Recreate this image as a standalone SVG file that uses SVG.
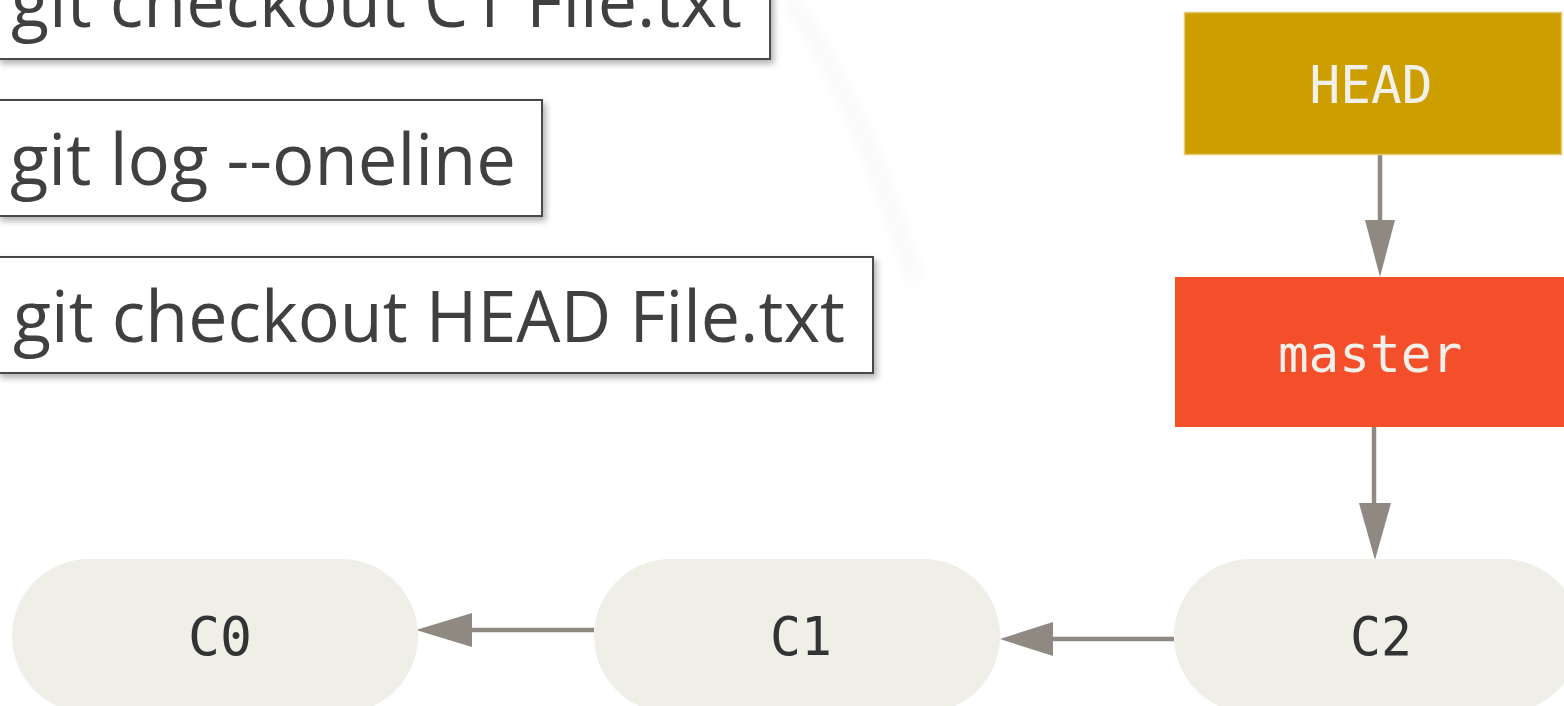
<svg xmlns="http://www.w3.org/2000/svg" width="1564" height="706" viewBox="0 0 1564 706">
  <defs>
    <style>
      .cmd { fill: #ffffff; stroke: #4a4a4a; stroke-width: 2; }
      .cmdtxt { font-family: "Open Sans", "Noto Sans", sans-serif; font-size: 72px; fill: #404040; }
      .ref { font-family: "DejaVu Sans Mono", "Liberation Mono", monospace; font-size: 51px; fill: #f2f0ea; text-anchor: middle; }
      .commit { fill: #efeee7; }
      .ctxt { font-family: "DejaVu Sans Mono", "Liberation Mono", monospace; font-size: 54px; fill: #333333; text-anchor: middle; }
      .conn { stroke: #8f8981; stroke-width: 4.5; fill: none; }
      .head { fill: #8f8981; }
    </style>
    <filter id="shadow" x="-5%" y="-20%" width="115%" height="150%">
      <feDropShadow dx="3" dy="4" stdDeviation="3" flood-color="#000000" flood-opacity="0.3"/>
    </filter>
    <filter id="faint" x="-50%" y="-50%" width="200%" height="200%">
      <feGaussianBlur stdDeviation="7"/>
    </filter>
  </defs>

  <rect width="1564" height="706" fill="#ffffff"/>

  <!-- faint background shadow artefacts -->
  <path d="M790,0 Q860,100 915,280" stroke="#f8f8f8" stroke-width="14" fill="none" filter="url(#faint)"/>
  <path d="M80,392 L600,392" stroke="#f8f8f8" stroke-width="10" fill="none" filter="url(#faint)"/>

  <g id="cmd1">
    <rect class="cmd" x="-2" y="-60" width="772" height="119" filter="url(#shadow)"/>
    <text class="cmdtxt" x="11" y="27" textLength="731" lengthAdjust="spacingAndGlyphs">git checkout C1 File.txt</text>
  </g>
  <g id="cmd2">
    <rect class="cmd" x="-2" y="100" width="544" height="116" filter="url(#shadow)"/>
    <text class="cmdtxt" x="10" y="185" textLength="506" lengthAdjust="spacingAndGlyphs">git log --oneline</text>
  </g>
  <g id="cmd3">
    <rect class="cmd" x="-2" y="257" width="875" height="116" filter="url(#shadow)"/>
    <text class="cmdtxt" x="13" y="342" textLength="832" lengthAdjust="spacingAndGlyphs">git checkout HEAD File.txt</text>
  </g>

  <g id="connectors">
    <line class="conn" x1="1380" y1="155" x2="1380" y2="222"/>
    <polygon class="head" points="1365,220 1395,220 1380,277"/>
    <line class="conn" x1="1374" y1="427" x2="1374" y2="505"/>
    <polygon class="head" points="1359,503 1391,503 1375,560"/>
    <line class="conn" x1="594" y1="630" x2="470" y2="630"/>
    <polygon class="head" points="416,630 472,613 472,647"/>
    <line class="conn" x1="1174" y1="639" x2="1051" y2="639"/>
    <polygon class="head" points="1000,639 1053,622 1053,656"/>
  </g>

  <g id="HEAD">
    <rect x="1184.5" y="12.5" width="377" height="142" fill="#cc9e00" stroke="#e6ca70" stroke-width="1.5"/>
    <text class="ref" x="1371" y="103">HEAD</text>
  </g>
  <g id="master">
    <rect x="1175" y="277" width="395" height="150" fill="#f44f2b"/>
    <text class="ref" x="1370" y="372">master</text>
  </g>

  <g id="C0">
    <rect class="commit" x="12" y="559" width="406" height="154" rx="77" ry="77"/>
    <text class="ctxt" x="220" y="655" textLength="64" lengthAdjust="spacingAndGlyphs">C0</text>
  </g>
  <g id="C1">
    <rect class="commit" x="594" y="559" width="406" height="154" rx="77" ry="77"/>
    <text class="ctxt" x="801" y="655" textLength="62" lengthAdjust="spacingAndGlyphs">C1</text>
  </g>
  <g id="C2">
    <rect class="commit" x="1174" y="559" width="406" height="154" rx="77" ry="77"/>
    <text class="ctxt" x="1381" y="655" textLength="62" lengthAdjust="spacingAndGlyphs">C2</text>
  </g>
</svg>
